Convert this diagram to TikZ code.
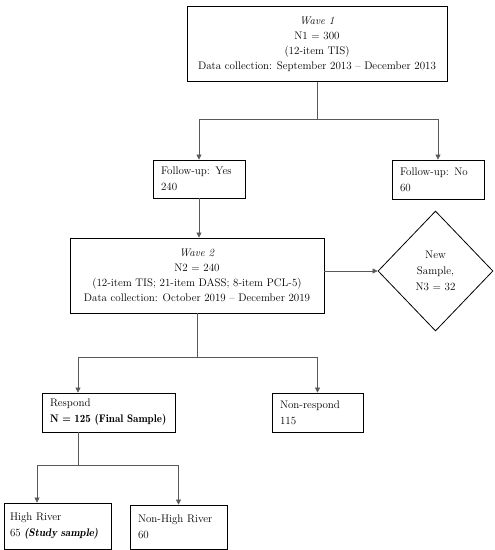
\documentclass[tikz,border=0pt]{standalone}
\usetikzlibrary{positioning, arrows.meta, shapes.geometric, calc}
\tikzset{
  % Wave boxes
  wavebox/.style={
    draw, rectangle, line width=0.8pt, align=center,
    font=\fontsize{11}{15}\selectfont, inner sep=0pt
  },
  % Count boxes
  countbox/.style={
    draw, rectangle, line width=0.8pt, align=left,
    font=\fontsize{11}{16}\selectfont,
    inner xsep=8pt, inner ysep=0pt
  },
  samplediamond/.style={
    draw, diamond, line width=0.8pt, align=center,
    font=\fontsize{11}{16}\selectfont, inner sep=0pt
  },
  % Connectors
  flow/.style={draw=black!65, line width=0.6pt},
  flowarrow/.style={flow, -{Triangle[length=5pt, width=5pt]}},
}
\newcommand{\semibold}[1]{{\fontseries{b}\selectfont #1}}

\begin{document}
\begin{tikzpicture}[x=1pt, y=-1pt]

  \useasboundingbox (0,0) rectangle (495,550);

  %% -- Wave 1 --
  \node[wavebox, minimum width=260pt, minimum height=75pt] (wave1) at (317,44)
    {\textit{Wave 1}\\N1 = 300\\(12-item TIS)\\Data collection: September 2013 -- December 2013};

  %% -- Follow-up --
  \node[countbox, text width=76pt, minimum height=38pt] (fuYes) at (199,179) {Follow-up: Yes\\240};
  \node[countbox, text width=76pt, minimum height=39pt] (fuNo)  at (438,179.5) {Follow-up: No\\60};

  %% -- Wave 2 --
  \node[wavebox, minimum width=254pt, minimum height=75pt] (wave2) at (197,275.5)
    {\textit{Wave 2}\\N2 = 240\\(12-item TIS; 21-item DASS; 8-item PCL-5)\\Data collection: October 2019 -- December 2019};
  \node[samplediamond, minimum width=115pt, minimum height=120pt] (newSample) at (435.5,271)
    {New\\Sample,\\N3 = 32};

  %% -- Response --
  \node[countbox, text width=117pt, minimum height=39pt] (respond)    at (108.5,412.5) {Respond\\\semibold{N = 125 (Final Sample)}};
  \node[countbox, text width=75pt, minimum height=39pt]  (nonRespond) at (317.5,412.5) {Non-respond\\115};

  %% -- Study sample --
  \node[countbox, text width=95pt, inner xsep=6pt, minimum height=46pt] (highRiver) at (57.5,526) {High River\\65 \semibold{\itshape (Study sample)}};
  \node[countbox, text width=81pt, minimum height=44pt] (nonHighRiver) at (178.5,527) {Non-High River\\60};

  %% -- Branch points --
  \coordinate (split1) at (317,119);
  \coordinate (split2) at (197,357);
  \coordinate (split2l) at (78,357);
  \coordinate (split3) at (78,465);
  \coordinate (split3l) at (37,465);

  %% -- Connectors --
  \draw[flow] (wave1.south) -- (split1);
  \draw[flowarrow] (split1) -| (fuYes.north);
  \draw[flowarrow] (split1) -| (fuNo.north);
  \draw[flowarrow] (fuYes.south) -- (fuYes.south |- wave2.north);
  \draw[flowarrow] (wave2.east |- newSample.west) -- (newSample.west);
  \draw[flow] (wave2.south) -- (split2);
  \draw[flowarrow] (split2) -| (nonRespond.north);
  \draw[flowarrow] (split2) -- (split2l) -- (split2l |- respond.north);
  \draw[flow] (split3 |- respond.south) -- (split3);
  \draw[flowarrow] (split3) -- (split3l) -- (split3l |- highRiver.north);
  \draw[flowarrow] (split3) -| (nonHighRiver.north);

\end{tikzpicture}
\end{document}
